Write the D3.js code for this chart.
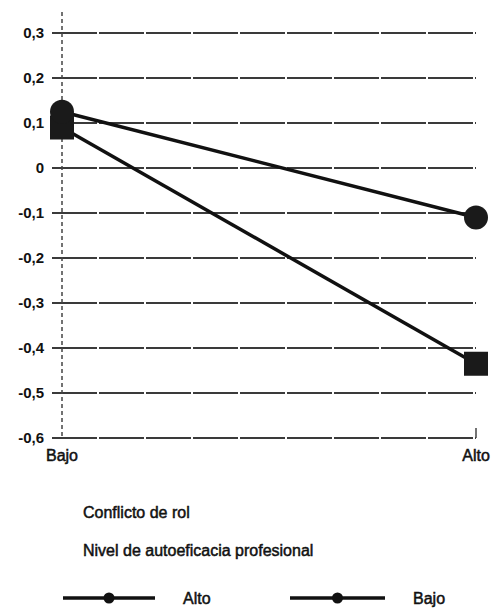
<!DOCTYPE html>
<html>
<head>
<meta charset="utf-8">
<script src="https://cdn.jsdelivr.net/npm/d3@7"></script>
<style>
  body { margin: 0; background: #fff; }
  text { font-family: "Liberation Sans", Arial, sans-serif; fill: #111; }
  .tick text { font-size: 15px; font-weight: bold; }
  .soft { stroke: #111; stroke-width: 0.5px; }
</style>
</head>
<body>
<svg width="499" height="613"></svg>
<script>
const categories = ["Bajo", "Alto"];
const serieAlto = [0.125, -0.11];
const serieBajo = [0.09, -0.435];
const yTicks = [0.3, 0.2, 0.1, 0, -0.1, -0.2, -0.3, -0.4, -0.5, -0.6];

const svg = d3.select("svg");

const x = d3.scalePoint().domain(categories).range([62, 476]);
const y = d3.scaleLinear().domain([-0.6, 0.3]).range([438, 33]);

const fmt = d => d === 0 ? "0" : d3.format(".1f")(d).replace(".", ",").replace("−", "-");

// gridlines
svg.append("g")
  .selectAll("line")
  .data(yTicks)
  .enter()
  .append("line")
  .attr("x1", 52)
  .attr("x2", 476)
  .attr("y1", d => y(d))
  .attr("y2", d => y(d))
  .attr("stroke", "#3a3a3a")
  .attr("stroke-width", 2)
  .attr("stroke-dasharray", "45,2");

// y axis
const yAxis = svg.append("g")
  .attr("transform", "translate(62,0)")
  .call(d3.axisLeft(y).tickValues(yTicks).tickFormat(fmt).tickSize(0).tickPadding(18));
yAxis.select(".domain").remove();
svg.append("line")
  .attr("x1", 62).attr("x2", 62)
  .attr("y1", 12).attr("y2", 438)
  .attr("stroke", "#444")
  .attr("stroke-width", 1.5)
  .attr("stroke-dasharray", "4,3");
svg.append("line")
  .attr("x1", 476).attr("x2", 476)
  .attr("y1", 428).attr("y2", 438)
  .attr("stroke", "#444")
  .attr("stroke-width", 1.5);

// x labels
svg.append("g")
  .selectAll("text")
  .data(categories)
  .enter()
  .append("text")
  .classed("soft", true)
  .attr("x", d => x(d))
  .attr("y", 461)
  .attr("text-anchor", "middle")
  .attr("font-size", 16)
  .text(d => d);

const line = d3.line().x((d, i) => x(categories[i])).y(d => y(d));

svg.append("path")
  .datum(serieAlto)
  .attr("d", line)
  .attr("fill", "none")
  .attr("stroke", "#111")
  .attr("stroke-width", 3.5);
svg.append("path")
  .datum(serieBajo)
  .attr("d", line)
  .attr("fill", "none")
  .attr("stroke", "#111")
  .attr("stroke-width", 3.5);

svg.append("g")
  .selectAll("rect")
  .data(serieBajo)
  .enter()
  .append("rect")
  .attr("x", (d, i) => x(categories[i]) - 12)
  .attr("y", d => y(d) - 12)
  .attr("width", 24)
  .attr("height", 24)
  .attr("fill", "#1a1a1a");

svg.append("g")
  .selectAll("circle")
  .data(serieAlto)
  .enter()
  .append("circle")
  .attr("cx", (d, i) => x(categories[i]))
  .attr("cy", d => y(d))
  .attr("r", 12)
  .attr("fill", "#1a1a1a");

// legend
svg.append("text")
  .classed("soft", true)
  .attr("x", 83).attr("y", 518)
  .attr("font-size", 16)
  .text("Conflicto de rol");
svg.append("text")
  .classed("soft", true)
  .attr("x", 83).attr("y", 556)
  .attr("font-size", 16)
  .text("Nivel de autoeficacia profesional");

const legend = [
  { name: "Alto", x1: 63, x2: 155, tx: 183 },
  { name: "Bajo", x1: 290, x2: 385, tx: 413 }
];
const lg = svg.append("g")
  .selectAll("g")
  .data(legend)
  .enter()
  .append("g");
lg.append("line")
  .attr("x1", d => d.x1).attr("x2", d => d.x2)
  .attr("y1", 598).attr("y2", 598)
  .attr("stroke", "#111")
  .attr("stroke-width", 3.5);
lg.append("circle")
  .attr("cx", d => (d.x1 + d.x2) / 2)
  .attr("cy", 598)
  .attr("r", 5.5)
  .attr("fill", "#111");
lg.append("text")
  .classed("soft", true)
  .attr("x", d => d.tx).attr("y", 604)
  .attr("font-size", 16)
  .text(d => d.name);
</script>
</body>
</html>
